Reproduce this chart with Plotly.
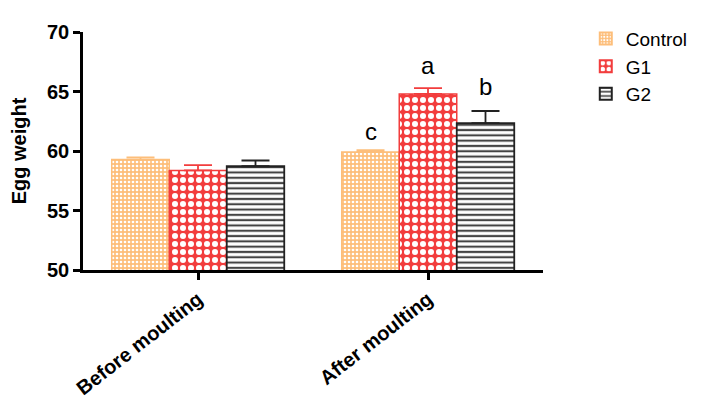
import plotly.graph_objects as go

categories = ["Before moulting", "After moulting"]
series = ["Control", "G1", "G2"]
control = [59.28, 59.92]
control_err = [0.18, 0.16]
g1 = [58.37, 64.8]
g1_err = [0.45, 0.48]
g2 = [58.72, 62.34]
g2_err = [0.48, 1.02]
letters = ["c", "a", "b"]
letter_y = [61.6, 67.2, 65.44]

FONT = "Arial, Liberation Sans, sans-serif"
orange = "#FDBE7A"
red = "#F23D3D"
black = "#222222"

fig = go.Figure()
fig.add_trace(go.Bar(
    name="Control", x=categories, y=control,
    marker=dict(color=orange, line=dict(color=orange, width=1.5),
                pattern=dict(shape=".", fgcolor="white", bgcolor=orange,
                             size=4, solidity=0.35, fillmode="replace")),
    error_y=dict(type="data", symmetric=False, array=control_err,
                 arrayminus=[0, 0], color=orange, thickness=1.8, width=14),
))
fig.add_trace(go.Bar(
    name="G1", x=categories, y=g1,
    marker=dict(color=red, line=dict(color=red, width=1.5),
                pattern=dict(shape=".", fgcolor="white", bgcolor=red,
                             size=8, solidity=0.45, fillmode="replace")),
    error_y=dict(type="data", symmetric=False, array=g1_err,
                 arrayminus=[0, 0], color=red, thickness=1.8, width=14),
))
fig.add_trace(go.Bar(
    name="G2", x=categories, y=g2,
    marker=dict(color="white", line=dict(color=black, width=1.8),
                pattern=dict(shape="-", fgcolor="#444444", bgcolor="white",
                             size=5.3, solidity=0.4, fillmode="replace")),
    error_y=dict(type="data", symmetric=False, array=g2_err,
                 arrayminus=[0, 0], color=black, thickness=1.8, width=14),
))

bar_px = 57.5
for lab, ly, sh in zip(letters, letter_y, [-bar_px, 0, bar_px]):
    fig.add_annotation(x=categories[1], y=ly, xref="x", yref="y", text=lab,
                       showarrow=False, xshift=sh, yanchor="middle",
                       font=dict(family=FONT, size=24, color="black"))

fig.update_layout(
    width=706, height=402,
    margin=dict(l=75, r=171, t=12, b=140),
    paper_bgcolor="white", plot_bgcolor="white",
    barmode="group", bargap=0.25, bargroupgap=0,
    font=dict(family=FONT, color="black"),
    showlegend=True,
    legend=dict(x=1.093, y=1.052, xanchor="left", yanchor="top",
                font=dict(family=FONT, size=19, color="black"),
                tracegroupgap=0, itemsizing="constant", bgcolor="rgba(0,0,0,0)"),
    xaxis=dict(
        type="category", range=[-0.5, 1.5], automargin=False,
        showline=True, linecolor="black", linewidth=2.5,
        ticks="outside", ticklen=7, tickwidth=2.5, tickcolor="black",
        tickangle=-38, tickfont=dict(family=FONT, size=20, color="black", weight="bold"),
        showgrid=False, zeroline=False,
    ),
    yaxis=dict(
        range=[50, 70], tickvals=[50, 55, 60, 65, 70], automargin=False,
        showline=True, linecolor="black", linewidth=2.5,
        ticks="outside", ticklen=7, tickwidth=2.5, tickcolor="black",
        tickfont=dict(family=FONT, size=20, color="black", weight="bold"),
        showgrid=False, zeroline=False,
        title=dict(text="Egg weight", font=dict(family=FONT, size=20, color="black", weight="bold"),
                   standoff=17),
    ),
)

fig.write_html("out.html")
